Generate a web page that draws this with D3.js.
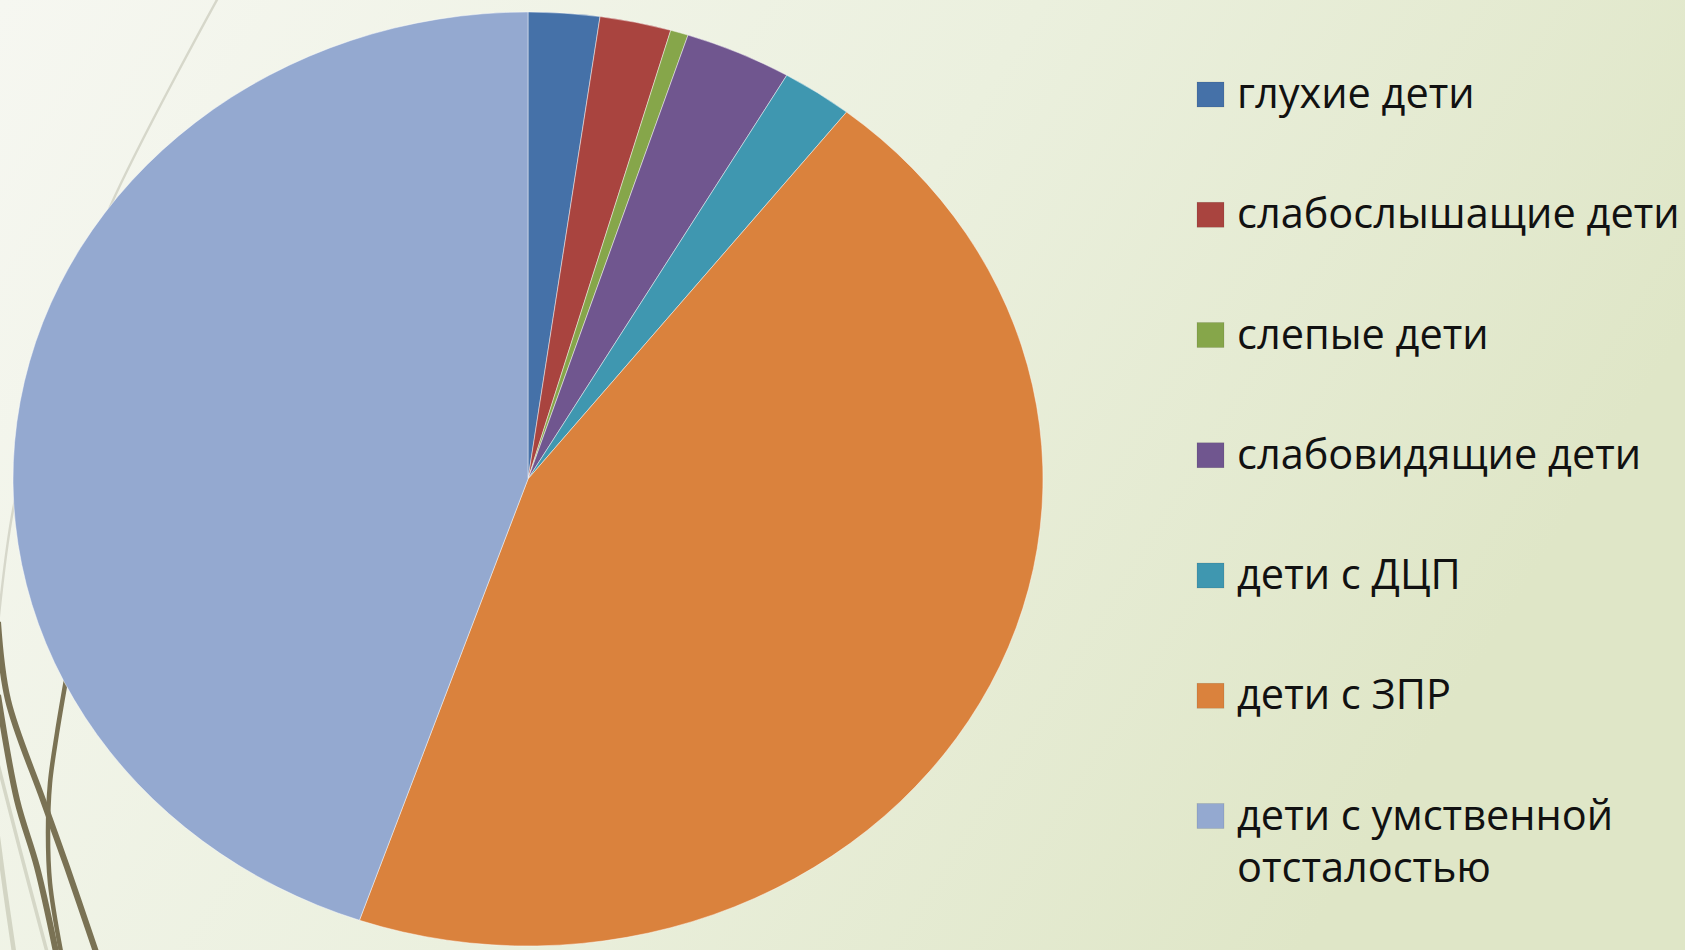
<!DOCTYPE html>
<html><head><meta charset="utf-8">
<script src="https://cdn.jsdelivr.net/npm/d3@7"></script>
<style>html,body{margin:0;padding:0;overflow:hidden;}svg{display:block;}</style>
</head><body>
<svg id="chart" width="1685" height="950"></svg>
<script>
const categories = ["глухие дети","слабослышащие дети","слепые дети","слабовидящие дети","дети с ДЦП","дети с ЗПР","дети с умственной отсталостью"];
const values = [4, 4, 1, 6, 4, 80, 80];
const colors = ["#4571A8","#A9443F","#86A64A","#70568F","#3F97B0","#DA823D","#94A9D0"];
const legendLines = [["глухие дети"],["слабослышащие дети"],["слепые дети"],["слабовидящие дети"],["дети с ДЦП"],["дети с ЗПР"],["дети с умственной","отсталостью"]];

const W = 1685, H = 950;
const svg = d3.select("#chart");
const defs = svg.append("defs");
const bg = defs.append("linearGradient").attr("id","bg").attr("x1","0").attr("y1","0").attr("x2","1").attr("y2","0.35");
bg.append("stop").attr("offset","0").attr("stop-color","#F6F7F1");
bg.append("stop").attr("offset","0.55").attr("stop-color","#EBF0DE");
bg.append("stop").attr("offset","1").attr("stop-color","#DFE6C7");
svg.append("rect").attr("width",W).attr("height",H).attr("fill","url(#bg)");

// decorative wisps (theme background)
const wisp = d3.line().curve(d3.curveCatmullRom);
const deco = svg.append("g").attr("fill","none");
deco.append("path").attr("d", wisp([[218,-2],[110,207],[45,380],[13,510],[-3,635]])).attr("stroke","#D6D7CA").attr("stroke-width",2.4);
deco.append("path").attr("d", wisp([[-3,830],[5,890],[14,952]])).attr("stroke","#D3D5C4").attr("stroke-width",4.5);
deco.append("path").attr("d", wisp([[-3,760],[20,850],[47,952]])).attr("stroke","#D5D7C7").attr("stroke-width",3.5);
deco.append("path").attr("d", wisp([[-2,622],[8,700],[43,800],[67,867],[96,952]])).attr("stroke","#7A7254").attr("stroke-width",6);
deco.append("path").attr("d", wisp([[-2,695],[17,800],[37,867],[56,952]])).attr("stroke","#7A7254").attr("stroke-width",6);
deco.append("path").attr("d", wisp([[66,680],[57,733],[50,783],[48,833],[50,883],[61,952]])).attr("stroke","#7A7254").attr("stroke-width",4.5);

// pie (elliptical, stretched horizontally as in the reference)
const cx = 528, cy = 479, rx = 515, ry = 467;
const pie = d3.pie().sort(null).value(d => d)(values);
const arc = d3.arc().innerRadius(0).outerRadius(ry);
const g = svg.append("g").attr("transform", `translate(${cx},${cy}) scale(${rx/ry},1)`);
g.selectAll("path").data(pie).join("path")
  .attr("d", arc)
  .attr("fill", (d,i) => colors[i])
  .attr("stroke", "rgba(255,255,255,0.45)")
  .attr("stroke-width", 1)
  .attr("vector-effect","non-scaling-stroke");

// legend
const y = d3.scalePoint().domain(d3.range(categories.length)).range([94.5, 816]);
const lg = svg.append("g");
const items = lg.selectAll("g").data(categories).join("g").attr("transform",(d,i)=>`translate(0,${y(i)})`);
items.append("rect").attr("x",1197).attr("y",-12.5).attr("width",27).attr("height",25)
  .attr("fill",(d,i)=>colors[i]).attr("stroke","rgba(0,0,0,0.15)").attr("stroke-width",0.6);
items.append("text").attr("x",1237).attr("y",13.5)
  .attr("font-family","'Open Sans', sans-serif").attr("font-size",41.5).attr("fill","#111")
  .selectAll("tspan").data((d,i)=>legendLines[i]).join("tspan")
  .attr("x",1237).attr("dy",(d,j)=> j===0 ? 0 : 52).text(d=>d);
</script>
</body></html>
